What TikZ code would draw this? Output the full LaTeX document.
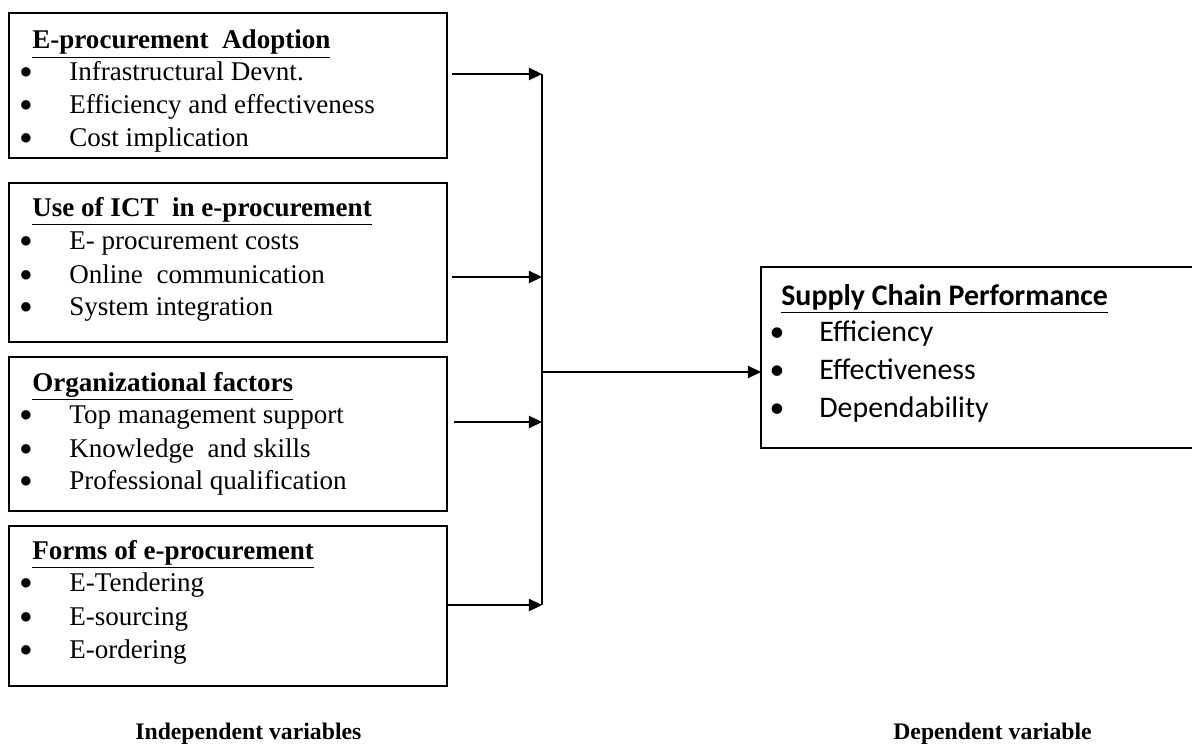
\documentclass[tikz,border=0pt]{standalone}
\usepackage{fontspec}
\setmainfont{Liberation Serif}
\newfontfamily\calfont{Carlito}
\newfontfamily\symfont{DejaVu Sans}
\usetikzlibrary{arrows.meta}
\begin{document}
\begin{tikzpicture}[x=0.02cm,y=-0.02cm,
        box/.style={draw,line width=1.1pt,outer sep=0pt,inner sep=0pt,anchor=north west},
        txt/.style={inner sep=0pt,anchor=base west,font=\fontsize{15.4}{18}\selectfont},
        hd/.style={txt,font=\fontsize{15.4}{18}\selectfont\bfseries},
        dot/.style={inner sep=0pt,anchor=base,font=\symfont\fontsize{7}{8}\selectfont},
        rtxt/.style={inner sep=0pt,anchor=base west,font=\calfont\fontsize{17}{20}\selectfont},
        rhd/.style={rtxt,font=\calfont\fontsize{17}{20}\selectfont\bfseries},
        rdot/.style={inner sep=0pt,anchor=base,font=\calfont\fontsize{17}{20}\selectfont},
        lbl/.style={inner sep=0pt,anchor=base west,font=\fontsize{13.5}{16}\selectfont\bfseries},
        arr/.style={line width=0.9pt,-{Triangle[length=7.5pt,width=7pt]}}]
        \useasboundingbox (0,0) rectangle (1192,743);
        \node[box,minimum width=8.76cm,minimum height=2.9cm] (adopt) at (9,13) {};
        \node[box,minimum width=8.76cm,minimum height=3.18cm] (ict) at (9,183) {};
        \node[box,minimum width=8.76cm,minimum height=3.08cm] (org) at (9,357) {};
        \node[box,minimum width=8.76cm,minimum height=3.2cm] (forms) at (9,526) {};
        \node[box,minimum width=8.7cm,minimum height=3.62cm] (scp) at (761,267) {};
        \node[hd] (adopt-h) at (32,49) {\underline{E-procurement\ \ Adoption}};
        \foreach \y/\t [count=\i] in {81/Infrastructural Devnt., 114/Efficiency and effectiveness, 147/Cost implication} {
            \node[dot] (adopt-d\i) at (26,\y-5) {●};
            \node[txt] (adopt-i\i) at (69,\y) {\t};
        }
        \node[hd] (ict-h) at (32,216) {\underline{Use of ICT\ \ in e-procurement}};
        \foreach \y/\t [count=\i] in {249/E- procurement costs, 283/Online\ \ communication, 315/System integration} {
            \node[dot] (ict-d\i) at (26,\y-5) {●};
            \node[txt] (ict-i\i) at (69,\y) {\t};
        }
        \node[hd] (org-h) at (32,391) {\underline{Organizational factors}};
        \foreach \y/\t [count=\i] in {423/Top management support, 457/Knowledge\ \ and skills, 489/Professional qualification} {
            \node[dot] (org-d\i) at (26,\y-5) {●};
            \node[txt] (org-i\i) at (69,\y) {\t};
        }
        \node[hd] (forms-h) at (32,559) {\underline{Forms of e-procurement}};
        \foreach \y/\t [count=\i] in {591/E-Tendering, 625/E-sourcing, 658/E-ordering} {
            \node[dot] (forms-d\i) at (26,\y-5) {●};
            \node[txt] (forms-i\i) at (69,\y) {\t};
        }
        \node[rhd] (scp-h) at (781,305) {\underline{Supply Chain Performance}};
        \foreach \y/\t [count=\i] in {341/Efficiency, 379/Effectiveness, 417/Dependability} {
            \node[rdot] (scp-d\i) at (777,\y) {•};
            \node[rtxt] (scp-i\i) at (819,\y) {\t};
        }
        \coordinate (j1) at (542,74);
        \coordinate (j2) at (542,277);
        \coordinate (j3) at (542,422);
        \coordinate (j4) at (542,605);
        \coordinate (jm) at (542,372);
        \draw[line width=0.9pt] (j1) -- (j4);
        \draw[arr] ([xshift=0.1cm]adopt.east |- j1) -- (j1);
        \draw[arr] ([xshift=0.1cm]ict.east |- j2) -- (j2);
        \draw[arr] ([xshift=0.14cm]org.east |- j3) -- (j3);
        \draw[arr] (forms.east |- j4) -- (j4);
        \draw[arr] (jm) -- (scp.west |- jm);
        \node[lbl] (indep) at (135,739) {Independent variables};
        \node[lbl] (dep) at (893,739) {Dependent variable};
    \end{tikzpicture}
\end{document}
